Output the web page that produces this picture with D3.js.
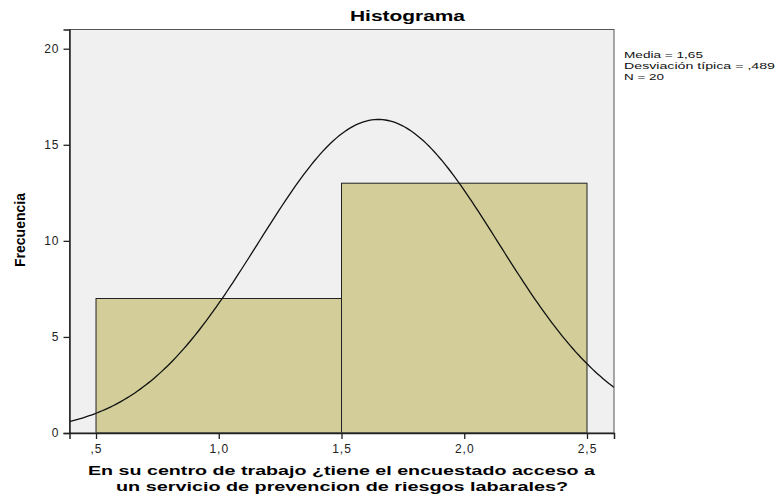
<!DOCTYPE html>
<html>
<head>
<meta charset="utf-8">
<script src="https://cdn.jsdelivr.net/npm/d3@7"></script>
<style>
  body { margin: 0; background: #fff; }
  svg text { font-family: "Liberation Sans", Arial, sans-serif; }
</style>
</head>
<body>
<svg id="chart" width="777" height="500"></svg>
<script>
// Data
const binEdges = [0.5, 1.5, 2.5];
const binCounts = [7, 13];
const stats = { mean: 1.65, sd: 0.489, n: 20 };
const xTicks = [0.5, 1.0, 1.5, 2.0, 2.5];
const yTicks = [0, 5, 10, 15, 20];
const legendLines = ["Media = 1,65", "Desviación típica = ,489", "N = 20"];

const svg = d3.select("#chart");
const margin = { left: 69.5, top: 29.5, right: 614, bottom: 433 };

const x = d3.scaleLinear().domain([0.392, 2.61]).range([margin.left, margin.right]);
const y = d3.scaleLinear().domain([0, 21]).range([margin.bottom, margin.top]);

const fmt = v => {
  let s = d3.format(".1f")(v).replace(".", ",");
  return s.startsWith("0,") ? s.slice(1) : s;
};

// the SPSS output is stretched sideways, so stretch texts to the widths seen
const stretch = (sel, w) => sel.attr("textLength", w).attr("lengthAdjust", "spacingAndGlyphs");

// plot background
svg.append("rect")
  .attr("x", margin.left).attr("y", margin.top)
  .attr("width", margin.right - margin.left)
  .attr("height", margin.bottom - margin.top)
  .attr("fill", "#f0f0f0");

// bars
const bins = binCounts.map((c, i) => ({ x0: binEdges[i], x1: binEdges[i + 1], count: c }));
svg.selectAll("rect.bar")
  .data(bins)
  .enter()
  .append("rect")
  .attr("class", "bar")
  .attr("x", d => x(d.x0))
  .attr("y", d => y(d.count))
  .attr("width", d => x(d.x1) - x(d.x0))
  .attr("height", d => y(0) - y(d.count))
  .attr("fill", "#d3ce99")
  .attr("stroke", "#222")
  .attr("stroke-width", 1);

// normal curve from the reported mean / sd, scaled to counts
const binWidth = binEdges[1] - binEdges[0];
const normal = v => stats.n * binWidth / (stats.sd * Math.sqrt(2 * Math.PI)) *
  Math.exp(-0.5 * Math.pow((v - stats.mean) / stats.sd, 2));
const [d0, d1] = x.domain();
const curveX = d3.range(0, 201).map(i => d0 + i * (d1 - d0) / 200);
svg.append("path")
  .datum(curveX)
  .attr("fill", "none")
  .attr("stroke", "#111")
  .attr("stroke-width", 1.3)
  .attr("d", d3.line().x(d => x(d)).y(d => y(normal(d))));

// frame
svg.append("rect")
  .attr("x", margin.left).attr("y", margin.top)
  .attr("width", margin.right - margin.left)
  .attr("height", margin.bottom - margin.top)
  .attr("fill", "none")
  .attr("stroke", "#555")
  .attr("stroke-width", 1);

// axes
const yAxis = svg.append("g")
  .attr("transform", `translate(${margin.left},0)`)
  .call(d3.axisLeft(y).tickValues(yTicks).tickSize(6).tickPadding(4).tickFormat(d3.format("d")));
const xAxis = svg.append("g")
  .attr("transform", `translate(0,${margin.bottom})`)
  .call(d3.axisBottom(x).tickValues(xTicks).tickSize(6).tickPadding(5).tickFormat(fmt));
[xAxis, yAxis].forEach(a => {
  a.select(".domain").attr("stroke", "#222").attr("stroke-width", 1.5);
  a.selectAll(".tick line").attr("stroke", "#222").attr("stroke-width", 1.3);
  a.selectAll(".tick text").attr("fill", "#222").style("font-size", "12px")
    .style("letter-spacing", "1px")
    .style("font-family", "'Liberation Sans', Arial, sans-serif");
});

// title
stretch(svg.append("text")
  .attr("x", 350).attr("y", 21)
  .style("font-size", "14px").style("font-weight", "bold")
  .text("Histograma"), 115);

// x axis label
const xl = svg.append("g")
  .style("font-size", "13.5px").style("font-weight", "bold");
stretch(xl.append("text").attr("x", 88).attr("y", 475)
  .text("En su centro de trabajo ¿tiene el encuestado acceso a"), 507);
stretch(xl.append("text").attr("x", 116).attr("y", 491)
  .text("un servicio de prevencion de riesgos labarales?"), 452);

// y axis label
svg.append("text")
  .attr("transform", "translate(25,230) rotate(-90)")
  .attr("text-anchor", "middle")
  .style("font-family", "'Liberation Sans Narrow', 'Arial Narrow', sans-serif")
  .style("font-size", "14px").style("font-weight", "bold")
  .text("Frecuencia");

// legend
const legendWidths = [79, 151, 40];
svg.append("g")
  .selectAll("text")
  .data(legendLines)
  .enter()
  .append("text")
  .attr("x", 624)
  .attr("y", (d, i) => 58 + i * 11)
  .attr("textLength", (d, i) => legendWidths[i])
  .attr("lengthAdjust", "spacingAndGlyphs")
  .style("font-size", "9.5px")
  .attr("fill", "#111")
  .text(d => d);
</script>
</body>
</html>
